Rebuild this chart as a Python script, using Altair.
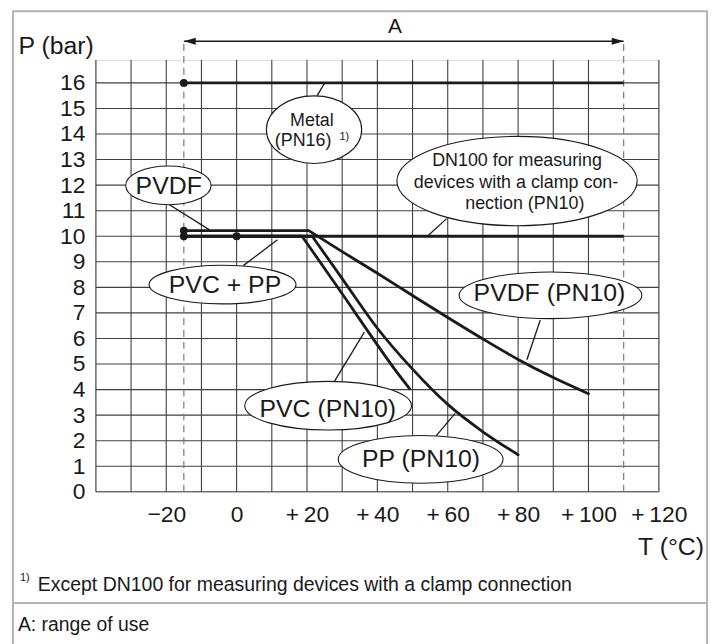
import altair as alt
import pandas as pd

# ---------------- data ----------------
metal_T = [-15, 110]
metal_P = [16, 16]
dn100_T = [0, 110]
dn100_P = [10, 10]
pvdf_T = [-15, 20.5, 30, 40, 50, 60, 70, 80, 90, 100]
pvdf_P = [10.22, 10.22, 9.4, 8.55, 7.68, 6.82, 5.98, 5.18, 4.47, 3.84]
pvc_T = [-15, 18.6, 30, 40, 45, 49.2]
pvc_P = [10, 10, 7.75, 5.75, 4.78, 4.03]
pp_T = [-15, 21.5, 30, 40, 50, 60, 70, 80]
pp_P = [10, 10, 8.34, 6.4, 4.8, 3.42, 2.35, 1.45]
dot_T = [-15, -15, -15, 0]
dot_P = [16, 10.22, 10, 10]

range_T = [-15, 110]          # "A": range of use
grid_T = [-40, -30, -20, -10, 0, 10, 20, 30, 40, 50, 60, 70, 80, 90, 100, 120]
grid_P = list(range(0, 17))
xtick_vals = [-20, 0, 20, 40, 60, 80, 100, 120]
ytick_vals = list(range(0, 17))

# callout labels
big_text = ["PVDF", "PVC + PP", "PVDF (PN10)", "PVC (PN10)", "PP (PN10)"]
big_T = [-19.3, -3.3, 88.9, 25.9, 52.4]
big_P = [11.96, 8.08, 7.76, 3.22, 1.28]

small_text = ["Metal", "(PN16)", "DN100 for measuring", "devices with a clamp con-", "nection (PN10)"]
small_T = [21.4, 18.9, 79.7, 79.4, 81.9]
small_P = [14.51, 13.71, 12.93, 12.09, 11.25]

ell_T = [22.0, 79.7, -19.4, -4.0, 89.2, 26.0, 52.3]
ell_P = [14.17, 12.16, 11.99, 8.11, 7.69, 3.37, 1.27]
ell_rx = [48, 121, 43, 74, 92, 84, 83]
ell_ry = [34, 45, 19.5, 19.5, 23.5, 24.5, 24]

lead_T1 = [24.9, 59.7, -19.3, 1.9, 86.3, 27.8, 56.7]
lead_P1 = [15.97, 10.69, 11.25, 8.85, 6.72, 4.32, 2.19]
lead_T2 = [22.9, 54.6, -7.7, 11.6, 82.5, 36.3, 62.1]
lead_P2 = [15.5, 10.05, 10.25, 9.86, 5.17, 6.25, 3.07]

FOOTNOTE = "Except DN100 for measuring devices with a clamp connection"
LEGEND_A = "A: range of use"

# ---------------- styling ----------------
FONT = "Liberation Sans"
INK = "#1a1a1a"
GRID = "#404040"
FRAME = "#b4b4b4"
W, H = 567, 435
PAD = {"left": 88.5, "top": 50, "right": 49.5, "bottom": 151}

xs = alt.Scale(domain=[-40, 120], nice=False, zero=False)
ys = alt.Scale(domain=[0, 16.9], nice=False, zero=False)

x_axis = alt.Axis(
    values=xtick_vals,
    labelExpr="datum.value > 0 ? '+\u2009' + datum.label : datum.label",
    labelFont=FONT, labelFontSize=23, labelColor=INK, labelPadding=12,
    labelFlush=False, labelOverlap=False,
    domain=False, ticks=False, grid=False,
    title="T (°C)", titleFont=FONT, titleFontSize=25, titleFontWeight="normal",
    titleColor=INK, titleX=612, titleY=55, titleAlign="right", titleBaseline="middle",
)
y_axis = alt.Axis(
    values=ytick_vals,
    labelFont=FONT, labelFontSize=23, labelColor=INK, labelPadding=11,
    domain=False, ticks=False, grid=False, labelOverlap=False,
    title="P (bar)", titleFont=FONT, titleFontSize=25, titleFontWeight="normal",
    titleColor=INK, titleAngle=0, titleX=-78.5, titleY=-14,
    titleAlign="left", titleBaseline="middle",
)


def X(f):
    return alt.X(f, type="quantitative", scale=xs, axis=x_axis)


def Y(f):
    return alt.Y(f, type="quantitative", scale=ys, axis=y_axis)


def XD(v):
    return alt.XDatum(v, scale=xs, axis=x_axis)


def YD(v):
    return alt.YDatum(v, scale=ys, axis=y_axis)


vgrid = alt.Chart(pd.DataFrame({"T": grid_T})).mark_rule(
    color=GRID, strokeWidth=1.1).encode(x=X("T"))
hgrid = alt.Chart(pd.DataFrame({"P": grid_P})).mark_rule(
    color=GRID, strokeWidth=1.1).encode(y=Y("P"))

dashed = alt.Chart(pd.DataFrame({"T": range_T})).mark_rule(
    color="#7a7a7a", strokeWidth=1.2, strokeDash=[7, 5]).encode(
    x=X("T"), y=YD(0), y2=alt.Y2Datum(17.71))

arrow = alt.Chart(pd.DataFrame({"a": [range_T[0]], "b": [range_T[1]]})).mark_rule(
    color=INK, strokeWidth=1.6).encode(
    x=X("a"), x2=alt.X2("b"), y=YD(17.63))
heads = alt.Chart(pd.DataFrame({
    "T": range_T,
    "shape": ["M 0 0 L 2.4 -0.7 L 2.4 0.7 Z", "M 0 0 L -2.4 -0.7 L -2.4 0.7 Z"],
})).mark_point(filled=True, color=INK, opacity=1, size=100).encode(
    x=X("T"), y=YD(17.63), shape=alt.Shape("shape:N", scale=None))
a_label = alt.Chart(pd.DataFrame({"t": ["A"]})).mark_text(
    font=FONT, fontSize=21, color=INK, baseline="middle").encode(
    x=XD(45), y=YD(18.17), text="t:N")

# straight (flat) parts and the curved derating parts
flat_rows, curve_rows = [], []
for name, ts, ps in [("Metal", metal_T, metal_P), ("DN100", dn100_T, dn100_P)]:
    for i, (t, p) in enumerate(zip(ts, ps)):
        flat_rows.append({"series": name, "i": i, "T": t, "P": p})
for name, ts, ps in [("PVDF", pvdf_T, pvdf_P), ("PVC", pvc_T, pvc_P), ("PP", pp_T, pp_P)]:
    for i, (t, p) in enumerate(zip(ts, ps)):
        if i <= 1:
            flat_rows.append({"series": name, "i": i, "T": t, "P": p})
        if i >= 1:
            curve_rows.append({"series": name, "i": i, "T": t, "P": p})

flat = alt.Chart(pd.DataFrame(flat_rows)).mark_line(
    color=INK, strokeWidth=2.8, strokeCap="butt").encode(
    x=X("T"), y=Y("P"), detail="series:N", order="i:Q")
curved = alt.Chart(pd.DataFrame(curve_rows)).mark_line(
    color=INK, strokeWidth=2.8, interpolate="monotone", strokeCap="round").encode(
    x=X("T"), y=Y("P"), detail="series:N", order="i:Q")

dots = alt.Chart(pd.DataFrame({"T": dot_T, "P": dot_P})).mark_point(
    filled=True, color=INK, opacity=1, size=62, shape="circle").encode(x=X("T"), y=Y("P"))

leaders = alt.Chart(pd.DataFrame({"a": lead_T1, "b": lead_P1, "c": lead_T2, "d": lead_P2})).mark_rule(
    color=INK, strokeWidth=1.3).encode(x=X("a"), y=Y("b"), x2=alt.X2("c"), y2=alt.Y2("d"))

ell_shape = [f"M -1 0 A 1 {ry / rx:.4f} 0 1 1 1 0 A 1 {ry / rx:.4f} 0 1 1 -1 0 Z"
             for rx, ry in zip(ell_rx, ell_ry)]
ell_size = [(2 * rx) ** 2 for rx in ell_rx]
ellipses = alt.Chart(pd.DataFrame({"T": ell_T, "P": ell_P, "shape": ell_shape, "size": ell_size})).mark_point(
    filled=True, fill="white", stroke=INK, strokeWidth=1.1, opacity=1, fillOpacity=1, strokeOpacity=1).encode(
    x=X("T"), y=Y("P"),
    shape=alt.Shape("shape:N", scale=None), size=alt.Size("size:Q", scale=None))

big_lbl = alt.Chart(pd.DataFrame({"T": big_T, "P": big_P, "t": big_text})).mark_text(
    font=FONT, fontSize=25, color=INK, baseline="middle").encode(x=X("T"), y=Y("P"), text="t:N")
small_lbl = alt.Chart(pd.DataFrame({"T": small_T, "P": small_P, "t": small_text})).mark_text(
    font=FONT, fontSize=18, color=INK, baseline="middle").encode(x=X("T"), y=Y("P"), text="t:N")
sup_lbl = alt.Chart(pd.DataFrame({"t": ["1)"]})).mark_text(
    font=FONT, fontSize=11, color=INK, baseline="middle").encode(
    x=XD(30.6), y=YD(13.88), text="t:N")

# ---- page furniture (frame, footnote, legend of A) ----
frame = alt.Chart(pd.DataFrame({"k": [0]})).mark_rect(
    fillOpacity=0, stroke=FRAME, strokeWidth=2).encode(
    x=alt.value(-83.5), x2=alt.value(615.5), y=alt.value(-49), y2=alt.value(640))
divider = alt.Chart(pd.DataFrame({"k": [0]})).mark_rule(
    color=FRAME, strokeWidth=2).encode(
    x=alt.value(-83.5), x2=alt.value(615.5), y=alt.value(547))
foot_sup = alt.Chart(pd.DataFrame({"t": ["1)"]})).mark_text(
    font=FONT, fontSize=11, color=INK, align="left", baseline="middle").encode(
    x=alt.value(-76.5), y=alt.value(522), text="t:N")
foot = alt.Chart(pd.DataFrame({"t": [FOOTNOTE]})).mark_text(
    font=FONT, fontSize=19.6, color=INK, align="left", baseline="middle").encode(
    x=alt.value(-58.5), y=alt.value(529), text="t:N")
legend_a = alt.Chart(pd.DataFrame({"t": [LEGEND_A]})).mark_text(
    font=FONT, fontSize=19.5, color=INK, align="left", baseline="middle").encode(
    x=alt.value(-78.5), y=alt.value(569), text="t:N")

chart = alt.layer(
    vgrid, hgrid, dashed, arrow, heads, a_label, flat, curved, leaders, ellipses,
    big_lbl, small_lbl, sup_lbl, dots, frame, divider, foot_sup, foot, legend_a,
).properties(
    width=W, height=H, padding=PAD,
    autosize=alt.AutoSizeParams(type="none"),
).configure_view(stroke=None).configure(background="white")

chart.save("out.html", embed_options={"renderer": "svg", "actions": False})
